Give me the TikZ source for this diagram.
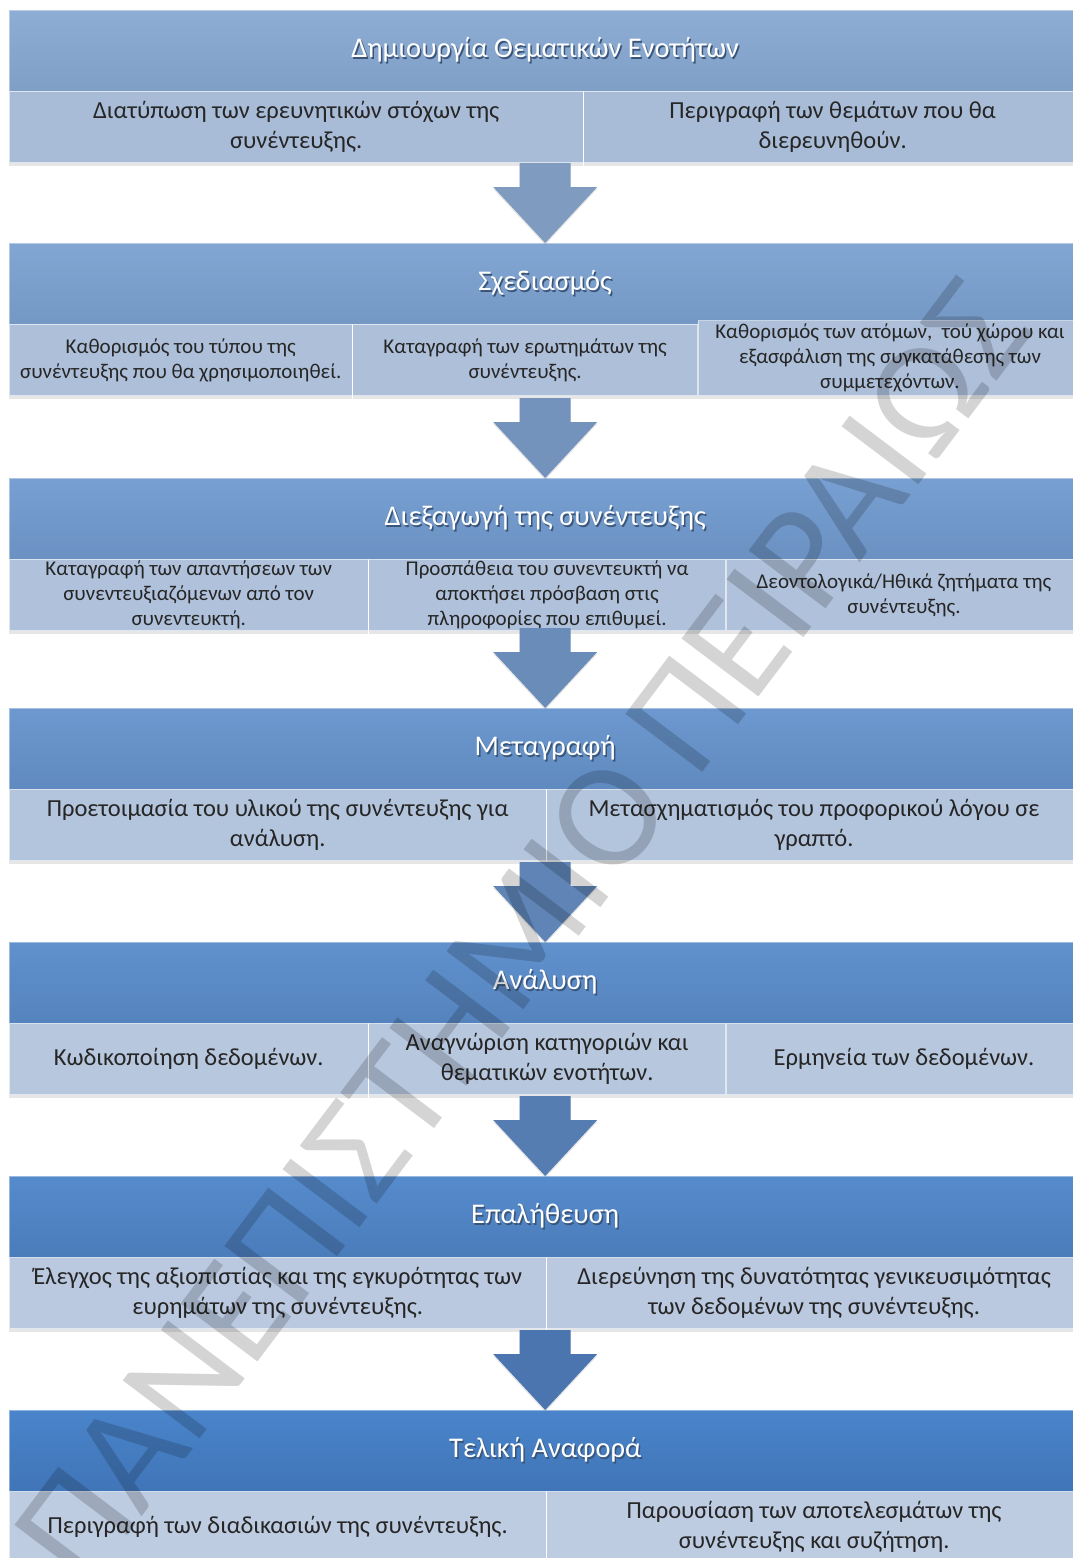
\documentclass[tikz,border=0pt]{standalone}
\usepackage{fontspec}
\setmainfont{Carlito}
\usetikzlibrary{positioning,shadows}
\definecolor{headtopA}{HTML}{8EADD5}
\definecolor{headbotA}{HTML}{7F9FC7}
\definecolor{headtopZ}{HTML}{4A84CA}
\definecolor{headbotZ}{HTML}{4075B8}
\definecolor{subA}{HTML}{A9BCD7}
\definecolor{subZ}{HTML}{BECCE2}
\definecolor{arrA}{HTML}{7F9BC0}
\definecolor{arrZ}{HTML}{4A75AE}
\definecolor{hshade}{HTML}{3A5578}
\newcommand{\shtxt}[1]{\rlap{\kern1.5pt\raisebox{-2pt}{\color{hshade}#1}}#1}
\begin{document}
\begin{tikzpicture}[x=1pt,y=-1pt,
  head/.style={anchor=north west,minimum width=1072pt,minimum height=81pt,inner sep=0pt,
    top color=headtopZ!#1!headtopA,bottom color=headbotZ!#1!headbotA,
    draw=white,draw opacity=0.4,text=white,font=\fontsize{28.5}{34}\selectfont},
  sub/.style={anchor=north west,minimum height=71pt,inner sep=0pt,align=center,
    fill=subZ!#1!subA,draw=white,draw opacity=0.6,text=black!85,
    font=\fontsize{24.5}{30}\selectfont,
    drop shadow={opacity=0.2,shadow xshift=0pt,shadow yshift=-3pt}},
  small/.style={font=\fontsize{21}{25}\selectfont},
  blk/.style={fill=arrZ!#1!arrA,drop shadow={opacity=0.2,shadow xshift=0pt,shadow yshift=-2pt}}]
\useasboundingbox (0,0) rectangle (1073,1558);
\clip (0,0) rectangle (1073,1558);
% 1
\node[head=0] (h1) at (9,10) {\shtxt{Δημιουργία Θεματικών Ενοτήτων}};
\node[sub=0,minimum width=574pt] (s1a) at (h1.south west) {Διατύπωση των ερευνητικών στόχων της\\συνέντευξης.};
\node[sub=0,minimum width=498pt,right=0pt of s1a] (s1b) {Περιγραφή των θεμάτων που θα\\διερευνηθούν.};
% 2
\node[head=17] (h2) at (9,243) {\shtxt{Σχεδιασμός}};
\node[sub=17,small,minimum width=343pt] (s2a) at (h2.south west) {Καθορισμός του τύπου της\\συνέντευξης που θα χρησιμοποιηθεί.};
\node[sub=17,small,minimum width=345pt,right=0pt of s2a] (s2b) {Καταγραφή των ερωτημάτων της\\συνέντευξης.};
\node[sub=17,small,minimum width=384pt,minimum height=75pt,anchor=south west] (s2c) at (s2b.south east) {Καθορισμός των ατόμων,\ \ τού χώρου και\\εξασφάλιση της συγκατάθεσης των\\συμμετεχόντων.};
% 3
\node[head=33] (h3) at (9,478) {\shtxt{Διεξαγωγή της συνέντευξης}};
\node[sub=33,small,minimum width=359pt] (s3a) at (h3.south west) {Καταγραφή των απαντήσεων των\\συνεντευξιαζόμενων από τον\\συνεντευκτή.};
\node[sub=33,small,minimum width=357pt,right=0pt of s3a] (s3b) {Προσπάθεια του συνεντευκτή να\\αποκτήσει πρόσβαση στις\\πληροφορίες που επιθυμεί.};
\node[sub=33,small,minimum width=356pt,right=0pt of s3b] (s3c) {Δεοντολογικά/Ηθικά ζητήματα της\\συνέντευξης.};
% 4
\node[head=50] (h4) at (9,708) {\shtxt{Μεταγραφή}};
\node[sub=50,minimum width=537pt] (s4a) at (h4.south west) {Προετοιμασία του υλικού της συνέντευξης για\\ανάλυση.};
\node[sub=50,minimum width=535pt,right=0pt of s4a] (s4b) {Μετασχηματισμός του προφορικού λόγου σε\\γραπτό.};
% 5
\node[head=67] (h5) at (9,942) {\shtxt{Ανάλυση}};
\node[sub=67,minimum width=359pt] (s5a) at (h5.south west) {Κωδικοποίηση δεδομένων.};
\node[sub=67,minimum width=357pt,right=0pt of s5a] (s5b) {Αναγνώριση κατηγοριών και\\θεματικών ενοτήτων.};
\node[sub=67,minimum width=356pt,right=0pt of s5b] (s5c) {Ερμηνεία των δεδομένων.};
% 6
\node[head=83] (h6) at (9,1176) {\shtxt{Επαλήθευση}};
\node[sub=83,minimum width=537pt] (s6a) at (h6.south west) {Έλεγχος της αξιοπιστίας και της εγκυρότητας των\\ευρημάτων της συνέντευξης.};
\node[sub=83,minimum width=535pt,right=0pt of s6a] (s6b) {Διερεύνηση της δυνατότητας γενικευσιμότητας\\των δεδομένων της συνέντευξης.};
% 7
\node[head=100] (h7) at (9,1410) {\shtxt{Τελική Αναφορά}};
\node[sub=100,minimum width=537pt] (s7a) at (h7.south west) {Περιγραφή των διαδικασιών της συνέντευξης.};
\node[sub=100,minimum width=535pt,right=0pt of s7a] (s7b) {Παρουσίαση των αποτελεσμάτων της\\συνέντευξης και συζήτηση.};
% block arrows
\foreach \j/\p in {2/0,3/20,4/40,5/60,6/80,7/100}
  \fill[blk=\p](h\j.north)--++(52,-56)--++(-26.5,0)--++(0,-24)--++(-51,0)--++(0,24)--++(-26.5,0)--cycle;
% watermark
\node[rotate=53,opacity=0.17,font=\fontsize{150}{150}\selectfont] (wm) at (522,932) {ΠΑΝΕΠΙΣΤΗΜΙΟ ΠΕΙΡΑΙΩΣ};
\end{tikzpicture}
\end{document}
